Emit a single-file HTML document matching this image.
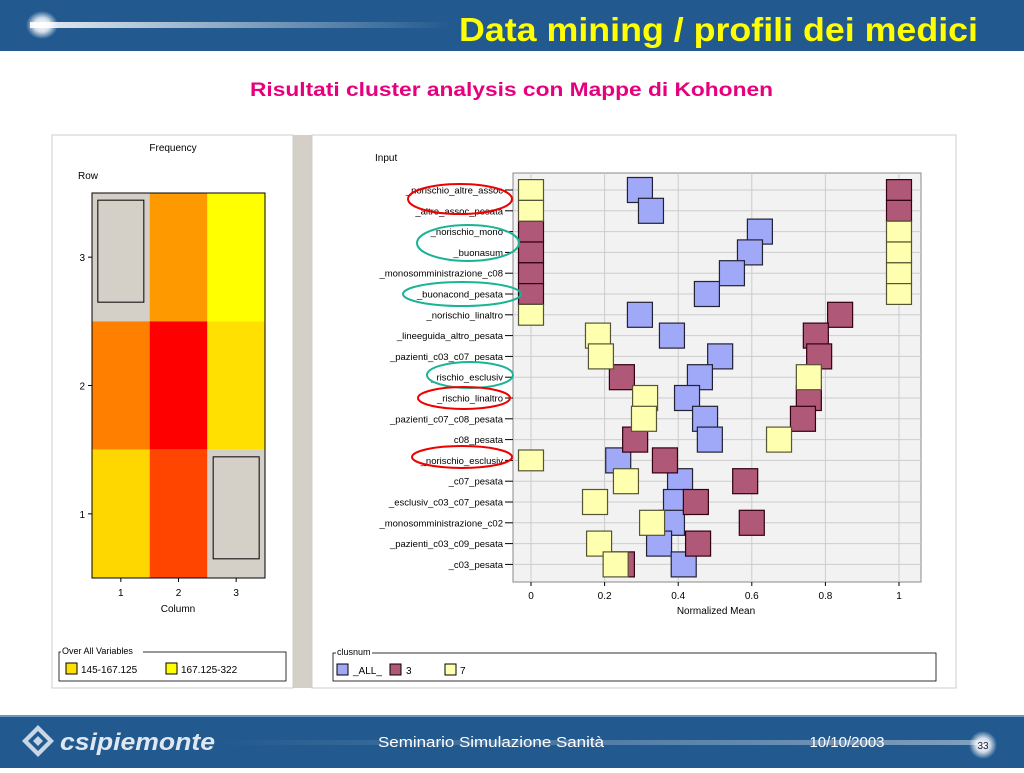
<!DOCTYPE html>
<html><head><meta charset="utf-8"><style>
body{margin:0;width:1024px;height:768px;overflow:hidden;background:#fff;font-family:"Liberation Sans",sans-serif}
svg text{font-family:"Liberation Sans",sans-serif}
</style></head><body>
<svg id="s" width="1024" height="768" xmlns="http://www.w3.org/2000/svg">
<defs>
<linearGradient id="streak" x1="0" x2="1"><stop offset="0" stop-color="#fff" stop-opacity="0.9"/><stop offset="1" stop-color="#fff" stop-opacity="0"/></linearGradient>
<linearGradient id="streak2" x1="0" x2="1"><stop offset="0" stop-color="#fff" stop-opacity="0"/><stop offset="1" stop-color="#fff" stop-opacity="0.7"/></linearGradient>
<radialGradient id="glow"><stop offset="0" stop-color="#fff"/><stop offset="0.5" stop-color="#fff" stop-opacity="0.8"/><stop offset="1" stop-color="#fff" stop-opacity="0"/></radialGradient>
</defs>
<g>
<rect x="0" y="0" width="1024" height="51" fill="#225a8f"/>
<rect x="30" y="22" width="420" height="6" fill="url(#streak)"/>
<ellipse cx="42" cy="25" rx="16" ry="14" fill="url(#glow)"/>
<text x="459" y="41" font-size="33" font-weight="bold" fill="#ffff00" textLength="519" lengthAdjust="spacingAndGlyphs">Data mining / profili dei medici</text>
</g>
<text x="250" y="96" font-size="19" font-weight="bold" fill="#e6007e" textLength="523" lengthAdjust="spacingAndGlyphs">Risultati cluster analysis con Mappe di Kohonen</text>

<g>
<rect x="52" y="135" width="241" height="553" fill="#fff" stroke="#ccc"/>
<text x="173" y="151" text-anchor="middle" font-size="10">Frequency</text>
<text x="78" y="179" font-size="10">Row</text>
<g id="heat"></g>
<rect x="92" y="193" width="173" height="385" fill="none" stroke="#000"/>
<text x="178" y="612" text-anchor="middle" font-size="10">Column</text>
<g>
<rect x="59" y="652" width="227" height="29" fill="none" stroke="#000" stroke-width="0.8"/>
<rect x="61" y="646" width="82" height="10" fill="#fff"/>
<text x="62" y="654" font-size="9">Over All Variables</text>
<rect x="66" y="663" width="11" height="11" fill="#ffe000" stroke="#000"/>
<text x="81" y="673" font-size="10">145-167.125</text>
<rect x="166" y="663" width="11" height="11" fill="#ffff00" stroke="#000"/>
<text x="181" y="673" font-size="10">167.125-322</text>
</g>
</g>
<rect x="293" y="135" width="19" height="553" fill="#d4d0c8"/>

<g>
<rect x="312" y="135" width="644" height="553" fill="#fff" stroke="#ccc"/>
<text x="375" y="161" font-size="10">Input</text>
<rect x="513" y="173" width="408" height="409" fill="#f2f2f2" stroke="#888"/>
<g id="grid"></g>
<g id="marks"></g>
<g id="ylab"></g>
<g id="xlab"></g>
<text x="716" y="614" text-anchor="middle" font-size="10">Normalized Mean</text>
<g>
<rect x="333" y="653" width="603" height="28" fill="none" stroke="#000" stroke-width="0.8"/>
<rect x="336" y="647" width="36" height="10" fill="#fff"/>
<text x="337" y="655" font-size="9">clusnum</text>
<rect x="337" y="664" width="11" height="11" fill="#a0a8f8" stroke="#000"/><text x="353" y="674" font-size="10">_ALL_</text>
<rect x="390" y="664" width="11" height="11" fill="#b05878" stroke="#000"/><text x="406" y="674" font-size="10">3</text>
<rect x="445" y="664" width="11" height="11" fill="#ffffb0" stroke="#000"/><text x="460" y="674" font-size="10">7</text>
</g>
<g fill="none" stroke-width="2">
<ellipse cx="460" cy="199" rx="52" ry="15" stroke="#e00"/>
<ellipse cx="468" cy="243" rx="51" ry="18" stroke="#1ab394"/>
<ellipse cx="462" cy="294" rx="59" ry="12" stroke="#1ab394"/>
<ellipse cx="470" cy="375" rx="43" ry="13" stroke="#1ab394"/>
<ellipse cx="464" cy="398" rx="46" ry="11" stroke="#e00"/>
<ellipse cx="462" cy="457" rx="50" ry="11" stroke="#e00"/>
</g>
</g>

<g>
<rect x="0" y="715" width="1024" height="53" fill="#225a8f"/>
<rect x="0" y="715" width="1024" height="2" fill="#6f97c0"/>
<rect x="220" y="740" width="760" height="5" fill="url(#streak2)" opacity="0.6"/>
<g transform="translate(38,741)">
<path d="M0,-16 L16,0 L0,16 L-16,0Z M0,-10 L10,0 L0,10 L-10,0Z" fill="#c8d6e6" fill-rule="evenodd"/>
<path d="M0,-5 L5,0 L0,5 L-5,0Z" fill="#c8d6e6"/>
</g>
<text x="60" y="750" font-size="24" font-weight="bold" font-style="italic" fill="#dfe8f2" textLength="155" lengthAdjust="spacingAndGlyphs">csipiemonte</text>
<text x="378" y="747" font-size="15" fill="#fff" textLength="226" lengthAdjust="spacingAndGlyphs">Seminario Simulazione Sanità</text>
<text x="847" y="747" text-anchor="middle" font-size="15" fill="#fff">10/10/2003</text>
<ellipse cx="983" cy="745" rx="14" ry="14" fill="url(#glow)"/>
<text x="983" y="749" text-anchor="middle" font-size="10" fill="#224">33</text>
</g>
</svg>
<script>
const NS='http://www.w3.org/2000/svg';
function mk(t,a,p){const e=document.createElementNS(NS,t);for(const k in a)e.setAttribute(k,a[k]);p.appendChild(e);return e;}
// Heatmap data (row 3 top)
const heatRows=[3,2,1];
const heatCols=[1,2,3];
const heatColors=[["empty","#ff9900","#ffff00"],["#ff7f00","#ff0000","#ffe000"],["#ffd700","#ff4500","empty"]];
const hx=c=>92+(c-0.5)*173/3, hy=r=>193+(3.5-r)*385/3;
const heat=document.getElementById('heat');
heatRows.forEach((r,i)=>heatCols.forEach((c,j)=>{
 const col=heatColors[i][j];
 const cell=mk('rect',{x:hx(c)-57.7/2,y:hy(r)-128.3/2,width:57.7,height:128.3,fill:col==='empty'?'#d4d0c8':col},heat);
 
 
 if(col==='empty')mk('rect',{x:hx(c)-23,y:hy(r)-57,width:46,height:102,fill:'none',stroke:'#000'},heat);
}));
heatRows.forEach(r=>{mk('line',{x1:88,x2:92,y1:hy(r),y2:hy(r),stroke:'#000'},heat);const t=mk('text',{x:85,y:hy(r)+4,'text-anchor':'end','font-size':10},heat);t.textContent=r;});
heatCols.forEach(c=>{mk('line',{x1:hx(c),x2:hx(c),y1:578,y2:582,stroke:'#000'},heat);const t=mk('text',{x:hx(c),y:596,'text-anchor':'middle','font-size':10},heat);t.textContent=c;});

// Kohonen chart data
const variables=["_norischio_altre_assoc","_altre_assoc_pesata","_norischio_mono","_buonasum","_monosomministrazione_c08","_buonacond_pesata","_norischio_linaltro","_lineeguida_altro_pesata","_pazienti_c03_c07_pesata","_rischio_esclusiv","_rischio_linaltro","_pazienti_c07_c08_pesata","c08_pesata","_norischio_esclusiv","_c07_pesata","_esclusiv_c03_c07_pesata","_monosomministrazione_c02","_pazienti_c03_c09_pesata","_c03_pesata"];
const allValues=[0.296,0.326,0.622,0.595,0.546,0.478,0.296,0.383,0.514,0.459,0.424,0.473,0.486,0.237,0.405,0.394,0.383,0.348,0.415];
const cluster3Values=[1,1,0,0,0,0,0.84,0.774,0.783,0.247,0.755,0.739,0.283,0.364,0.582,0.448,0.6,0.454,0.247];
const cluster7Values=[0,0,1,1,1,1,0,0.182,0.19,0.755,0.31,0.307,0.674,0,0.258,0.174,0.329,0.185,0.23];
const xTicks=[0,0.2,0.4,0.6,0.8,1];
const xs=v=>531+v*368, ys=i=>190+i*20.8;
const grid=document.getElementById('grid'),marks=document.getElementById('marks'),ylab=document.getElementById('ylab'),xlab=document.getElementById('xlab');
xTicks.forEach(v=>{mk('line',{x1:xs(v),x2:xs(v),y1:173,y2:582,stroke:'#ccc'},grid);mk('line',{x1:xs(v),x2:xs(v),y1:582,y2:586,stroke:'#000'},xlab);const t=mk('text',{x:xs(v),y:599,'text-anchor':'middle','font-size':10},xlab);t.textContent=String(v);});
variables.forEach((n,i)=>{mk('line',{x1:513,x2:921,y1:ys(i),y2:ys(i),stroke:'#ccc'},grid);mk('line',{x1:505,x2:513,y1:ys(i),y2:ys(i),stroke:'#000'},ylab);const t=mk('text',{x:503,y:ys(i)+3.5,'text-anchor':'end','font-size':9.5},ylab);t.textContent=n;});
const S=25;
[[allValues,'#a0a8f8','#223','point-all'],[cluster3Values,'#b05878','#301','point-cluster3'],[cluster7Values,'#ffffb0','#553','point-cluster7']].forEach(([vals,fill,st,nm])=>{
 vals.forEach((v,i)=>{const r=mk('rect',{x:xs(v)-S/2,y:ys(i)-(v===0||v===1?10.4:S/2),width:S,height:(v===0||v===1)?20.8:S,fill:fill,stroke:st,'stroke-width':1.2},marks);
 
 });
});
</script>
</body></html>
